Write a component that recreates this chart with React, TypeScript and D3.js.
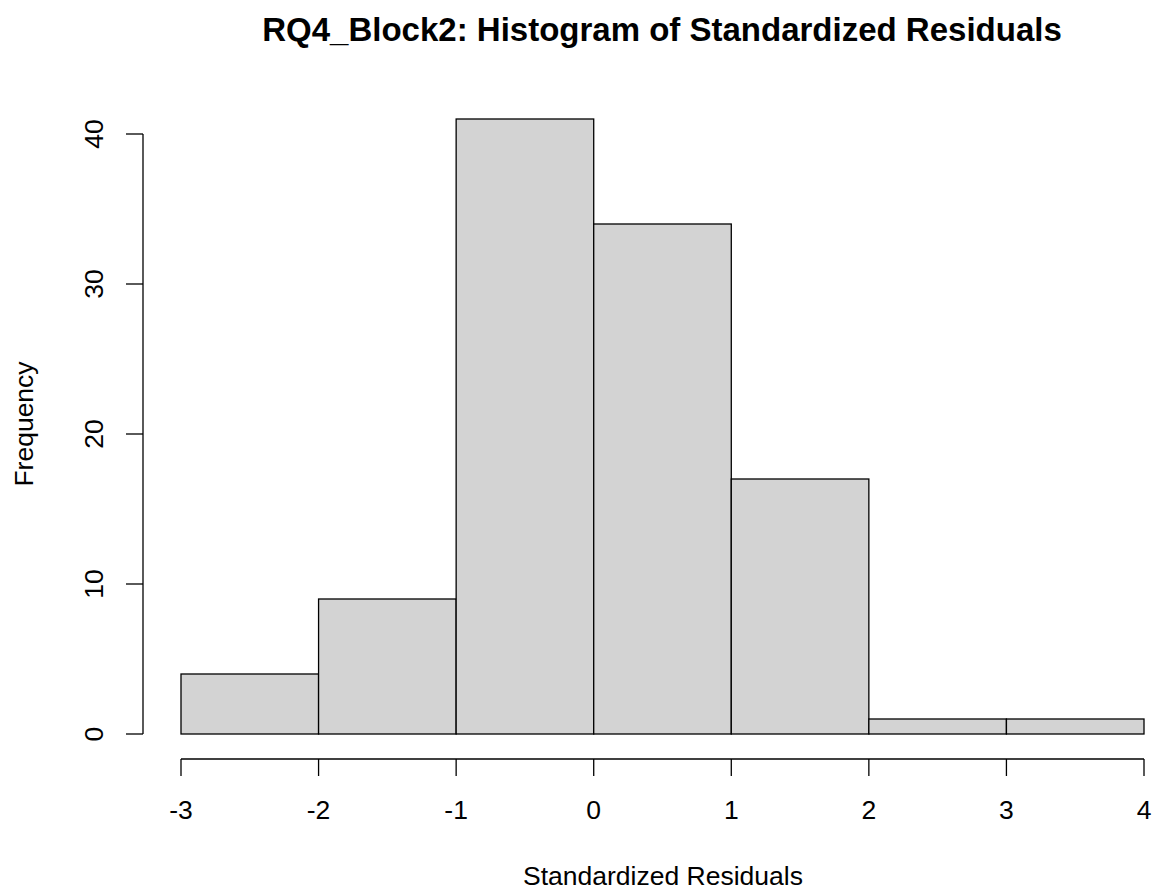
import React from 'react';
import * as d3 from 'd3';

// histogram bins (standardized residuals)
const binEdges = [-3, -2, -1, 0, 1, 2, 3, 4];
const counts = [4, 9, 41, 34, 17, 1, 1];
const yTicks = [0, 10, 20, 30, 40];
const xTicks = [-3, -2, -1, 0, 1, 2, 3, 4];

const title = 'RQ4_Block2: Histogram of Standardized Residuals';
const xLabel = 'Standardized Residuals';
const yLabel = 'Frequency';

export default function App() {
  const width = 1154;
  const height = 890;
  const font = '"Liberation Sans", Arial, sans-serif';
  const fs = 26.5;

  const x = d3.scaleLinear().domain([-3, 4]).range([181, 1144]);
  const y = d3.scaleLinear().domain([0, 40]).range([734, 134]);

  const bins = counts.map((c, i) => ({ x0: binEdges[i], x1: binEdges[i + 1], count: c }));

  const yAxisX = 143;
  const xAxisY = 759;
  const tick = 17;

  return (
    <svg width={width} height={height} style={{ position: 'absolute', left: 0, top: 0, background: '#fff' }}>
      <text x={662} y={41} textAnchor="middle" fontFamily={font} fontWeight="bold" fontSize={33} fill="#000">
        {title}
      </text>

      {bins.map((b, i) => (
        <rect
          key={i}
          x={x(b.x0)}
          y={y(b.count)}
          width={x(b.x1) - x(b.x0)}
          height={y(0) - y(b.count)}
          fill="#d3d3d3"
          stroke="#000"
          strokeWidth={1.3}
        />
      ))}

      {/* y axis */}
      <line x1={yAxisX} x2={yAxisX} y1={y(0)} y2={y(40)} stroke="#000" strokeWidth={1.3} />
      {yTicks.map(t => (
        <g key={t}>
          <line x1={yAxisX - tick} x2={yAxisX} y1={y(t)} y2={y(t)} stroke="#000" strokeWidth={1.3} />
          <text
            transform={`translate(${103},${y(t)}) rotate(-90)`}
            textAnchor="middle"
            fontFamily={font}
            fontSize={fs}
            fill="#000"
          >
            {t}
          </text>
        </g>
      ))}

      {/* x axis */}
      <line x1={x(-3)} x2={x(4)} y1={xAxisY} y2={xAxisY} stroke="#000" strokeWidth={1.3} />
      {xTicks.map(t => (
        <g key={t}>
          <line x1={x(t)} x2={x(t)} y1={xAxisY} y2={xAxisY + tick} stroke="#000" strokeWidth={1.3} />
          <text x={x(t)} y={819} textAnchor="middle" fontFamily={font} fontSize={fs} fill="#000">
            {t}
          </text>
        </g>
      ))}

      <text x={663} y={885} textAnchor="middle" fontFamily={font} fontSize={fs} fill="#000">
        {xLabel}
      </text>
      <text
        transform={`translate(${33},${424}) rotate(-90)`}
        textAnchor="middle"
        fontFamily={font}
        fontSize={fs}
        fill="#000"
      >
        {yLabel}
      </text>
    </svg>
  );
}
